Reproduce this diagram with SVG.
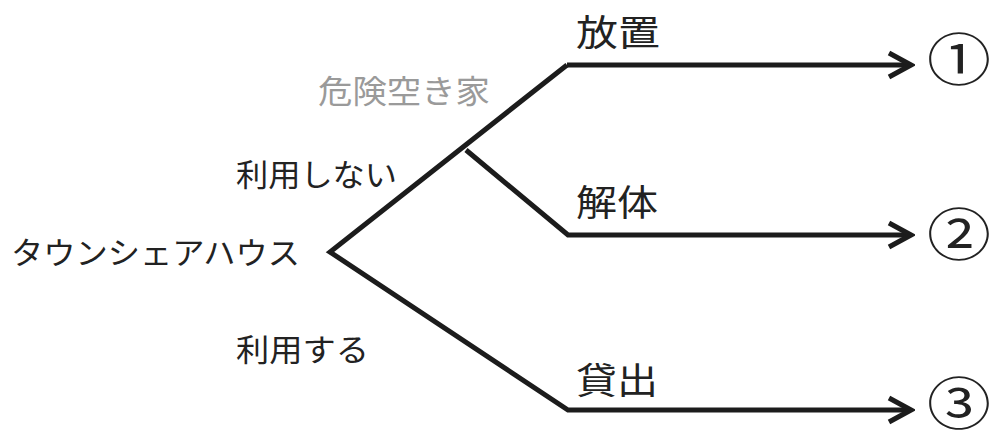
<svg xmlns="http://www.w3.org/2000/svg" width="990" height="441" viewBox="0 0 990 441">
<defs>
<style>
.t{font-family:"Noto Sans CJK JP","Noto Sans CJK SC",sans-serif;fill:#222;}
.big{font-size:36px;}
.mid{font-size:31px;}
.gray{font-size:32px;fill:#9a9a9a;}
.num{font-family:"Noto Sans CJK JP","Noto Sans CJK SC",sans-serif;font-size:56px;fill:#222;}
.ln{fill:none;stroke:#1c1c1c;stroke-width:5;stroke-linejoin:miter;stroke-linecap:butt;}
</style>
<marker id="ah" markerUnits="userSpaceOnUse" markerWidth="30" markerHeight="30" viewBox="-26 -15 30 30" refX="0" refY="0" orient="auto">
<path d="M-22,-12 L0,0 L-22,12" fill="none" stroke="#1c1c1c" stroke-width="5" stroke-linejoin="miter"/>
</marker>
</defs>
<rect width="990" height="441" fill="#ffffff"/>
<g id="connectors">
<path class="ln" d="M567,65 L330,252 L568,410 L911,410" marker-end="url(#ah)"/>
<path class="ln" d="M567,65 L911,65" marker-end="url(#ah)"/>
<path class="ln" d="M466,150 L568,235 L911,235" marker-end="url(#ah)"/>
</g>
<g id="node-root"><text class="t mid" x="11" y="264" textLength="289" lengthAdjust="spacingAndGlyphs">タウンシェアハウス</text></g>
<g id="label-no-use"><text class="t mid" x="236" y="186" textLength="161" lengthAdjust="spacingAndGlyphs">利用しない</text></g>
<g id="label-use"><text class="t mid" x="236" y="361" textLength="133" lengthAdjust="spacingAndGlyphs">利用する</text></g>
<g id="label-danger"><text class="t gray" x="318" y="103" textLength="172" lengthAdjust="spacingAndGlyphs">危険空き家</text></g>
<g id="label-houchi"><text class="t big" x="576" y="46" textLength="84" lengthAdjust="spacingAndGlyphs">放置</text></g>
<g id="label-kaitai"><text class="t big" x="576" y="216" textLength="82" lengthAdjust="spacingAndGlyphs">解体</text></g>
<g id="label-kashidashi"><text class="t big" x="576" y="394" textLength="82" lengthAdjust="spacingAndGlyphs">貸出</text></g>
<g id="node-1"><text class="num" x="959" y="80" text-anchor="middle" textLength="64" lengthAdjust="spacingAndGlyphs">①</text></g>
<g id="node-2"><text class="num" x="959" y="255" text-anchor="middle" textLength="64" lengthAdjust="spacingAndGlyphs">②</text></g>
<g id="node-3"><text class="num" x="959" y="424" text-anchor="middle" textLength="64" lengthAdjust="spacingAndGlyphs">③</text></g>
</svg>
